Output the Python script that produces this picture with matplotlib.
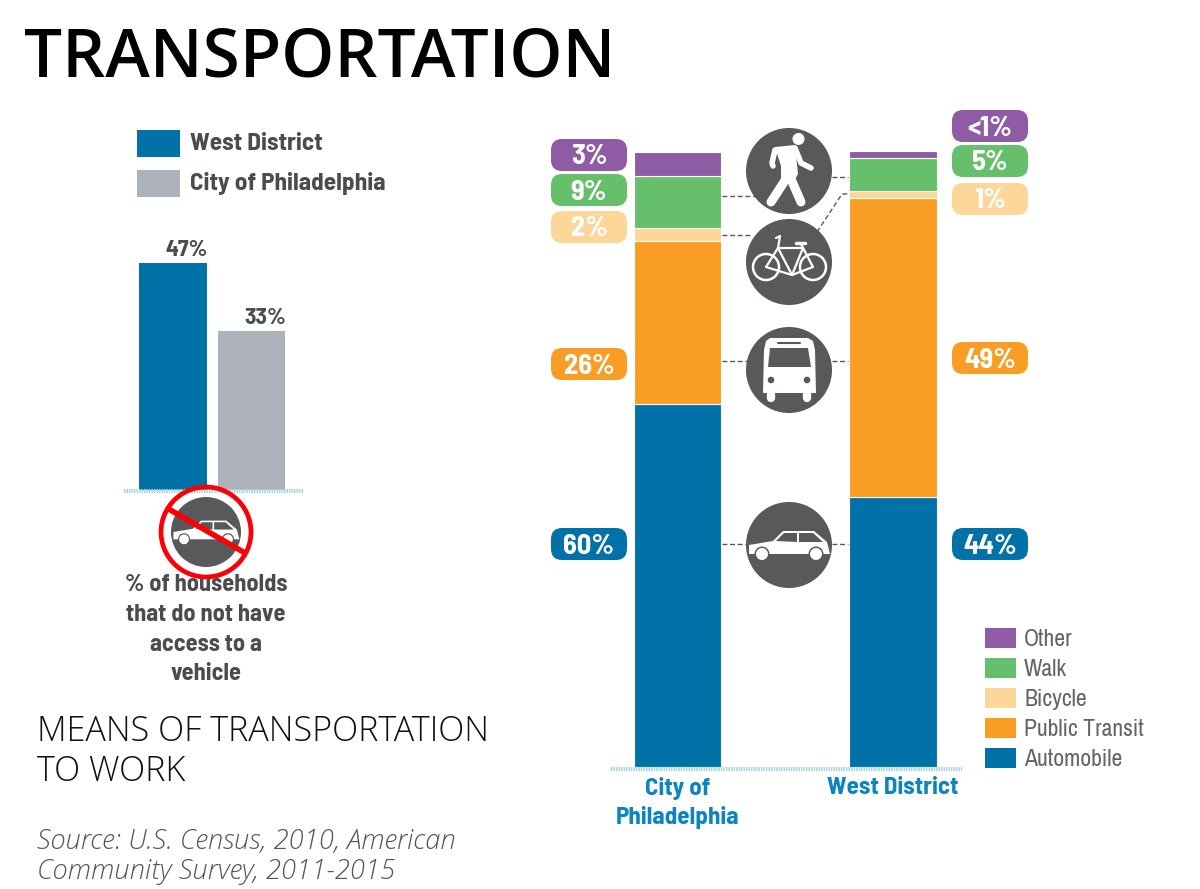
import matplotlib
matplotlib.use('Agg')
import matplotlib.pyplot as plt
from matplotlib.patches import Circle, FancyBboxPatch, Polygon, Rectangle

# left chart
no_car_groups = ['West District', 'City of Philadelphia']
no_car_values = [47, 33]
no_car_labels = ['47%', '33%']

# right chart, heights
places = ['City of\nPhiladelphia', 'West District']
modes = ['Automobile', 'Public Transit', 'Bicycle', 'Walk', 'Other']
city_values = [59.0, 26.5, 2.1, 8.5, 3.9]
west_values = [43.9, 48.6, 1.1, 5.5, 1.0]
city_labels = ['60%', '26%', '2%', '9%', '3%']
west_labels = ['44%', '49%', '1%', '5%', '<1%']

BLUE = '#0072a8'
GREY_BAR = '#adb2ba'
ORANGE = '#f99d25'
PEACH = '#fdd699'
GREEN = '#66bf6b'
PURPLE = '#8f5ba5'
mode_colors = [BLUE, ORANGE, PEACH, GREEN, PURPLE]
ICON = '#58595b'
TXT = '#4a4c50'
NARROW = ['Archivo Narrow', 'Barlow Condensed', 'Liberation Sans']
BOLD = ['Barlow Semi Condensed', 'Barlow Condensed', 'Liberation Sans']

W, H = 1200, 889
fig = plt.figure(figsize=(W / 100, H / 100), dpi=100, facecolor='white')


def axes_px(left, top, right, bottom):
    return fig.add_axes([left / W, 1 - bottom / H, (right - left) / W, (bottom - top) / H])


# left bars
ax_l = axes_px(124, 220, 303, 490)
ax_l.bar([0, 1], no_car_values, width=[0.87, 0.85], color=[BLUE, GREY_BAR])
ax_l.set_xlim(-0.435 - 15 / 79, 1 + 18 / 79 + 0.425)
ax_l.set_ylim(0, 270 / 4.82)
ax_l.axis('off')
for i, v in enumerate(no_car_values):
    ax_l.text(i + 0.17, v + 0.7, no_car_labels[i], ha='center', va='bottom',
              family=BOLD, weight='bold', fontsize=17, color=TXT)

# right stacked bars
ax_r = axes_px(611, 130, 962, 767)
bottom = [0, 0]
for m in range(len(modes)):
    vals = [city_values[m], west_values[m]]
    ax_r.bar([0, 1], vals, bottom=bottom, width=0.408, color=mode_colors[m],
             edgecolor='white', linewidth=0.8)
    bottom = [bottom[0] + vals[0], bottom[1] + vals[1]]
ax_r.set_xlim(-66.5 / 215.5, 1 + 69 / 215.5)
ax_r.set_ylim(0, 637 / 6.15)
ax_r.set_xticks([0, 1])
ax_r.set_xticklabels(places, family=BOLD, weight='bold', fontsize=18, color='#0a85c2',
                     linespacing=1.35)
ax_r.set_yticks([])
ax_r.tick_params(axis='x', length=0, pad=7)
for s in ax_r.spines.values():
    s.set_visible(False)
ax_r.patch.set_alpha(0)

# overlay in pixels for the infographic bits
ov = fig.add_axes([0, 0, 1, 1], zorder=5)
ov.set_xlim(0, W)
ov.set_ylim(H, 0)
ov.axis('off')

ov.text(24, 59, 'TRANSPORTATION', fontsize=48.5, family='Open Sans', weight='semibold',
        color='black', va='center', ha='left')
ov.text(37, 752, 'MEANS OF TRANSPORTATION\nTO WORK', fontsize=24.6, family='Open Sans',
        weight='light', color='#111111', va='center', ha='left', linespacing=1.2)
ov.text(37, 856.5, 'Source: U.S. Census, 2010, American\nCommunity Survey, 2011-2015', fontsize=19.7,
        family='Open Sans', weight='light', style='italic', color='#555555', va='center',
        ha='left', linespacing=1.15)

# dotted baselines
ov.plot([124, 303], [490.5, 490.5], color='#a5d6de', lw=3, ls=(0, (0.35, 0.25)))
ov.plot([611, 962], [769, 769], color='#a5d6de', lw=3, ls=(0, (0.35, 0.25)))

# left legend
for y, name, col in zip([143.5, 183.5], no_car_groups, [BLUE, GREY_BAR]):
    ov.add_patch(Rectangle((137, y - 13.5), 43, 27, color=col, lw=0))
    ov.text(190, y, name, family=BOLD, weight='bold', fontsize=18.2, color=TXT,
            va='center', ha='left')

for y, line in zip([585, 615, 645, 674], ['% of households', 'that do not have', 'access to a', 'vehicle']):
    ov.text(206, y, line, family=BOLD, weight='bold', fontsize=17.5, color=TXT,
            va='center', ha='center')

# right legend
for m, y in zip(range(4, -1, -1), [638, 668, 698, 728, 758]):
    ov.add_patch(Rectangle((985, y - 10), 31, 20, color=mode_colors[m], lw=0))
    ov.text(1024, y + 1, modes[m], family=NARROW, fontsize=17.1, color='#636466', va='center', ha='left')


def pill(x, yc, label, col):
    ov.add_patch(FancyBboxPatch((x + 11, yc - 5), 54, 10, boxstyle='round,pad=11,rounding_size=11',
                                fc=col, ec='none', zorder=3))
    ov.text(x + 38, yc + 2, label, family=BOLD, weight='bold', fontsize=20.5, color='white',
            ha='center', va='center', zorder=4)


for lab, col, yc in zip(city_labels, mode_colors, [544, 364, 227, 190, 155]):
    pill(551, yc, lab, col)
for lab, col, yc in zip(west_labels, mode_colors, [544, 358, 199, 161, 126]):
    pill(952, yc, lab, col)

# dashed leaders
for xs, ys in [([722, 755], [196, 196]), ([722, 752], [235, 235]), ([722, 748], [361, 361]),
               ([832, 848], [361, 361]), ([722, 748], [544, 544]), ([832, 848], [544, 544]),
               ([832, 848], [177, 177]), ([817, 842, 848], [232, 194, 194])]:
    ov.plot(xs, ys, color=ICON, lw=1, ls=(0, (3.5, 2)), zorder=2)


def disc(cx, cy, r=43):
    ov.add_patch(Circle((cx, cy), r, fc=ICON, ec='none', zorder=6))


def poly(cx, cy, pts, col='white', z=7, k=1.0):
    ov.add_patch(Polygon([(cx + a * k, cy + b * k) for a, b in pts], closed=True, fc=col, ec='none', zorder=z))


def seg(cx, cy, pts, w, col='white', z=7):
    ov.plot([cx + a for a, b in pts], [cy + b for a, b in pts], color=col, lw=w,
            solid_capstyle='round', solid_joinstyle='round', zorder=z)


def walker(cx, cy):
    disc(cx, cy)
    ov.add_patch(Circle((cx + 9.5, cy - 32), 6, fc='white', ec='none', zorder=7))
    poly(cx, cy, [(-14, -24), (6, -26), (9, 3), (4, 12), (-8, 12), (-8, -5)])
    seg(cx, cy, [(-14, -21), (-17, -8), (-16, -5)], 4)
    seg(cx, cy, [(6, -23), (12, -8), (22, -3)], 4)
    seg(cx, cy, [(-3, 8), (-18, 31)], 6.5)
    seg(cx, cy, [(2, 8), (12, 31)], 6.5)


def bike(cx, cy):
    disc(cx, cy)
    for dx in (-23, 24):
        ov.add_patch(Circle((cx + dx, cy + 5), 13, fc='none', ec='white', lw=1.8, zorder=7))
    seg(cx, cy, [(-23, 5), (-11, -14), (3, 13), (14, -14), (-11, -14)], 1.6)
    seg(cx, cy, [(3, 13), (-23, 5)], 1.6)
    seg(cx, cy, [(3, 13), (24, 5), (12, -18)], 1.6)
    seg(cx, cy, [(-13, -24), (-9, -26), (-11, -14)], 1.6)
    seg(cx, cy, [(7, -19), (16, -19)], 2.5)


def bus(cx, cy):
    disc(cx, cy)
    poly(cx, cy, [(-19, -32), (19, -32), (24, -29), (26, -20), (27, 23), (-26, 23), (-25, -20), (-23, -29)])
    poly(cx, cy, [(-19, -22), (19, -22), (22, -3), (-21, -3)], ICON, 8)
    seg(cx, cy, [(-11, -27), (11, -27)], 1.5, ICON, 8)
    for dx in (-18, 18):
        ov.add_patch(Circle((cx + dx, cy + 10), 3.3, fc=ICON, ec='none', zorder=8))
        seg(cx, cy, [(dx, 23), (dx, 28)], 6)


def car(cx, cy, k=1.0):
    disc(cx, cy, 43 * k)
    poly(cx, cy, [(-40, 0), (-16, -4), (-6, -14), (25, -14), (38, -3), (41, 9), (-40, 9)], k=k)
    poly(cx, cy, [(-13, -4), (-5, -12), (8, -12), (8, -3)], ICON, 8, k)
    poly(cx, cy, [(10, -12), (24, -12), (34, -3), (10, -3)], ICON, 8, k)
    for dx in (-27, 27):
        ov.add_patch(Circle((cx + dx * k, cy + 9 * k), 7.5 * k, fc=ICON, ec='none', zorder=8))
        ov.add_patch(Circle((cx + dx * k, cy + 9 * k), 6 * k, fc='white', ec='none', zorder=9))


walker(789, 171)
bike(789, 262)
bus(789, 370)
car(789, 545)

# no car sign
car(206, 532, 35 / 43)
ov.add_patch(Circle((206, 532), 45, fc='none', ec='#fb0007', lw=3.4, zorder=10))
ov.plot([167, 245], [508, 553], color='#fb0007', lw=4, zorder=10, solid_capstyle='butt')

fig.savefig('out.png', dpi=100)
